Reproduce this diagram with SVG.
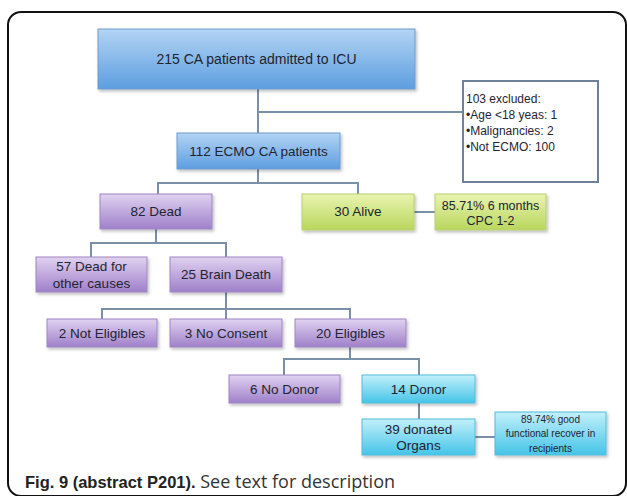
<svg xmlns="http://www.w3.org/2000/svg" width="627" height="496" viewBox="0 0 627 496">
<defs>
<linearGradient id="gBlue" x1="0" y1="0" x2="0" y2="1"><stop offset="0" stop-color="#b3d4f4"/><stop offset="1" stop-color="#5d9ee0"/></linearGradient>
<linearGradient id="gPurple" x1="0" y1="0" x2="0" y2="1"><stop offset="0" stop-color="#e0d2f0"/><stop offset="1" stop-color="#9f80ca"/></linearGradient>
<linearGradient id="gGreen" x1="0" y1="0" x2="0" y2="1"><stop offset="0" stop-color="#e9f4b0"/><stop offset="1" stop-color="#b9d65e"/></linearGradient>
<linearGradient id="gCyan" x1="0" y1="0" x2="0" y2="1"><stop offset="0" stop-color="#c2f0fa"/><stop offset="1" stop-color="#45c4e8"/></linearGradient>
<filter id="sh" x="-10%" y="-10%" width="130%" height="140%"><feDropShadow dx="1.5" dy="2" stdDeviation="1.5" flood-color="#000" flood-opacity="0.25"/></filter>
</defs>
<style>
.t{font-family:"Liberation Sans",Arial,sans-serif;fill:#1f2430;text-anchor:middle}
.m{font-size:13.5px}
.s{font-size:12.5px}
.xs{font-size:10px}
.ex{font-family:"Liberation Sans",Arial,sans-serif;fill:#1f2430;font-size:12px}
.blue{fill:url(#gBlue);stroke:#6d9bd0;stroke-width:1;filter:url(#sh)}
.pur{fill:url(#gPurple);stroke:#9f86c4;stroke-width:1;filter:url(#sh)}
.grn{fill:url(#gGreen);stroke:#b8d070;stroke-width:1;filter:url(#sh)}
.cyn{fill:url(#gCyan);stroke:#55bcd9;stroke-width:1;filter:url(#sh)}
.c{fill:none;stroke:#7a8fa8;stroke-width:2}
.cap{font-family:"Open Sans","Liberation Sans",sans-serif;font-size:18px;fill:#333}
.capb{font-family:"Liberation Sans",Arial,sans-serif;font-size:16.5px;font-weight:bold;fill:#222}
</style>
<rect x="0" y="0" width="627" height="496" fill="#fff"/>
<rect x="8" y="12" width="618" height="484" rx="13" ry="13" fill="none" stroke="#111" stroke-width="2"/>
<g id="connectors">
<path class="c" d="M258 89V133M258 112H463"/>
<path class="c" d="M258 169V183M158 194V183H358V194"/>
<path class="c" d="M414 212H435"/>
<path class="c" d="M156 229V243M91 257V243H226V257"/>
<path class="c" d="M226 292V309M102 319V309H350V319M226 309V319"/>
<path class="c" d="M350 347V359M284 375V359H419V375"/>
<path class="c" d="M419 403V419"/>
<path class="c" d="M475 437H495"/>
</g>
<g id="n215"><rect class="blue" x="98" y="29" width="317" height="60"/><text class="t" x="256.5" y="64" font-size="14">215 CA patients admitted to ICU</text></g>
<g id="excluded"><rect x="463" y="81" width="135" height="101" fill="#fff" stroke="#6e809a" stroke-width="2"/>
<text class="ex" x="466" y="103">103 excluded:</text>
<text class="ex" x="466" y="119">•Age &lt;18 yeas: 1</text>
<text class="ex" x="466" y="135">•Malignancies: 2</text>
<text class="ex" x="466" y="151">•Not ECMO: 100</text></g>
<g id="n112"><rect class="blue" x="177" y="133" width="163" height="36"/><text class="t m" x="258.5" y="156">112 ECMO CA patients</text></g>
<g id="n82"><rect class="pur" x="100" y="194" width="112" height="35"/><text class="t m" x="156" y="216">82 Dead</text></g>
<g id="n30"><rect class="grn" x="302" y="194" width="112" height="36"/><text class="t m" x="358" y="216">30 Alive</text></g>
<g id="n85"><rect class="grn" x="435" y="194" width="111" height="36"/><text class="t s" x="490.5" y="210">85.71% 6 months</text><text class="t s" x="490.5" y="225">CPC 1-2</text></g>
<g id="n57"><rect class="pur" x="36" y="257" width="111" height="35"/><text class="t m" x="91.5" y="271">57 Dead for</text><text class="t m" x="91.5" y="288">other causes</text></g>
<g id="n25"><rect class="pur" x="170" y="257" width="112" height="35"/><text class="t m" x="226" y="279">25 Brain Death</text></g>
<g id="n2"><rect class="pur" x="47" y="319" width="110" height="28"/><text class="t m" x="102" y="338">2 Not Eligibles</text></g>
<g id="n3"><rect class="pur" x="170" y="319" width="112" height="28"/><text class="t m" x="226" y="338">3 No Consent</text></g>
<g id="n20"><rect class="pur" x="295" y="319" width="111" height="28"/><text class="t m" x="350.5" y="338">20 Eligibles</text></g>
<g id="n6"><rect class="pur" x="229" y="375" width="111" height="28"/><text class="t m" x="284.5" y="394">6 No Donor</text></g>
<g id="n14"><rect class="cyn" x="362" y="375" width="113" height="28"/><text class="t m" x="418.5" y="394">14 Donor</text></g>
<g id="n39"><rect class="cyn" x="362" y="419" width="113" height="36"/><text class="t m" x="418.5" y="434">39 donated</text><text class="t m" x="418.5" y="450">Organs</text></g>
<g id="n89"><rect class="cyn" x="495" y="412" width="111" height="43"/><text class="t xs" x="550.5" y="423">89.74% good</text><text class="t xs" x="550.5" y="437">functional recover in</text><text class="t xs" x="550.5" y="452">recipients</text></g>
<text class="cap" x="25" y="488"><tspan class="capb">Fig. 9 (abstract P201).</tspan> See text for description</text>
</svg>
